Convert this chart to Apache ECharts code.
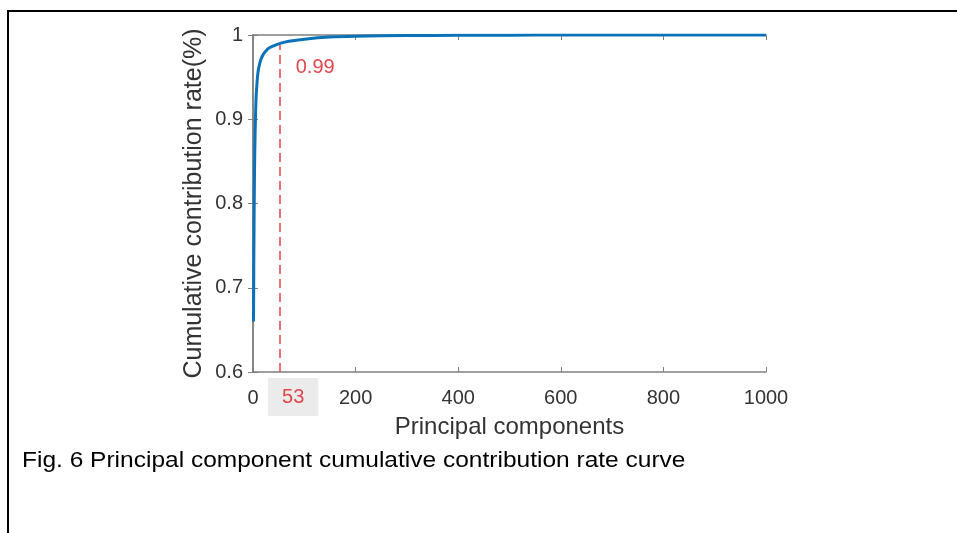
<!DOCTYPE html>
<html>
<head>
<meta charset="utf-8">
<script src="https://cdn.jsdelivr.net/npm/echarts@6/dist/echarts.min.js"></script>
<style>
  html, body { margin: 0; padding: 0; background: #fff; }
  #chart { width: 957px; height: 533px; }
</style>
</head>
<body>
<div id="chart"></div>
<script>
// cumulative contribution rate
const components = [1, 2, 3, 4, 5, 6, 8, 10, 13, 16, 20, 25, 30, 40, 53, 70, 100, 150, 200, 300, 400, 500, 600, 800, 1000]
const rates = [0.66, 0.77, 0.84, 0.88, 0.905, 0.925, 0.945, 0.957, 0.966, 0.972, 0.977, 0.981, 0.984, 0.987, 0.99, 0.9925, 0.995, 0.9975, 0.9985, 0.9993, 0.9996, 0.9998, 0.9999, 1, 1]
const cutComponent = 53
const cutRate = 0.99
const caption = 'Fig. 6 Principal component cumulative contribution rate curve'

const fontFamily = '"Liberation Sans", Arial, Helvetica, sans-serif'
const axisGray = '#7f7f7f'
const red = '#e0464b'

const chart = echarts.init(document.getElementById('chart'))

chart.setOption({
  animation: false,
  textStyle: { fontFamily: fontFamily },
  grid: { left: 253, top: 35, right: 191, bottom: 161 },
  xAxis: [
    {
      type: 'value',
      min: 0,
      max: 1000,
      interval: 200,
      name: 'Principal components',
      nameLocation: 'middle',
      nameGap: 43,
      nameTextStyle: { fontSize: 24, color: '#333' },
      axisLine: { show: true, lineStyle: { color: axisGray, width: 1.5 } },
      axisTick: { show: true, inside: true, length: 5, lineStyle: { color: axisGray } },
      axisLabel: { fontSize: 20, color: '#333', margin: 16, formatter: v => String(v) },
      splitLine: { show: false }
    },
    {
      type: 'value',
      position: 'top',
      min: 0,
      max: 1000,
      interval: 200,
      axisLine: { show: true, lineStyle: { color: axisGray, width: 1.5 } },
      axisTick: { show: true, inside: true, length: 5, lineStyle: { color: axisGray } },
      axisLabel: { show: false },
      splitLine: { show: false }
    }
  ],
  yAxis: [
    {
      type: 'value',
      min: 0.6,
      max: 1,
      interval: 0.1,
      name: 'Cumulative contribution rate(%)',
      nameLocation: 'middle',
      nameGap: 46,
      nameMoveOverlap: false,
      nameTextStyle: { fontSize: 25, color: '#333' },
      axisLine: { show: true, lineStyle: { color: axisGray, width: 1.5 } },
      axisTick: { show: true, inside: true, length: 5, lineStyle: { color: axisGray } },
      axisLabel: { fontSize: 20, color: '#333', margin: 10 },
      splitLine: { show: false }
    },
    {
      type: 'value',
      position: 'right',
      min: 0.6,
      max: 1,
      interval: 0.1,
      axisLine: { show: true, lineStyle: { color: axisGray, width: 1.5 } },
      axisTick: { show: true, inside: true, length: 5, lineStyle: { color: axisGray } },
      axisLabel: { show: false },
      splitLine: { show: false }
    }
  ],
  series: [
    {
      type: 'line',
      data: components.map((c, i) => [c, rates[i]]),
      showSymbol: false,
      smooth: 0.3,
      lineStyle: { color: '#0b72b9', width: 3 },
      z: 3,
      markLine: {
        silent: true,
        symbol: 'none',
        label: { show: false },
        lineStyle: { color: red, type: [9, 5], width: 1.5 },
        data: [[{ coord: [cutComponent, 0.6] }, { coord: [cutComponent, cutRate - 0.002] }]]
      },
      markPoint: {
        silent: true,
        symbol: 'circle',
        symbolSize: 0,
        data: [
          {
            coord: [cutComponent, cutRate],
            label: {
              show: true,
              formatter: String(cutRate),
              color: red,
              fontSize: 20,
              offset: [35, 24]
            }
          },
          {
            coord: [cutComponent, 0.6],
            label: {
              show: true,
              formatter: String(cutComponent),
              color: red,
              fontSize: 20,
              backgroundColor: '#ebebeb',
              padding: [9, 14, 9, 14],
              offset: [13, 25]
            }
          }
        ]
      }
    }
  ],
  graphic: [
    { type: 'rect', left: 7, top: 10, shape: { width: 950, height: 2 }, style: { fill: '#000' } },
    { type: 'rect', left: 7, top: 10, shape: { width: 2, height: 523 }, style: { fill: '#000' } },
    {
      type: 'text',
      x: 22,
      y: 461,
      scaleX: 1.14,
      style: { text: caption, fontSize: 21.5, fill: '#000', fontFamily: fontFamily, verticalAlign: 'middle' }
    }
  ]
})
</script>
</body>
</html>
